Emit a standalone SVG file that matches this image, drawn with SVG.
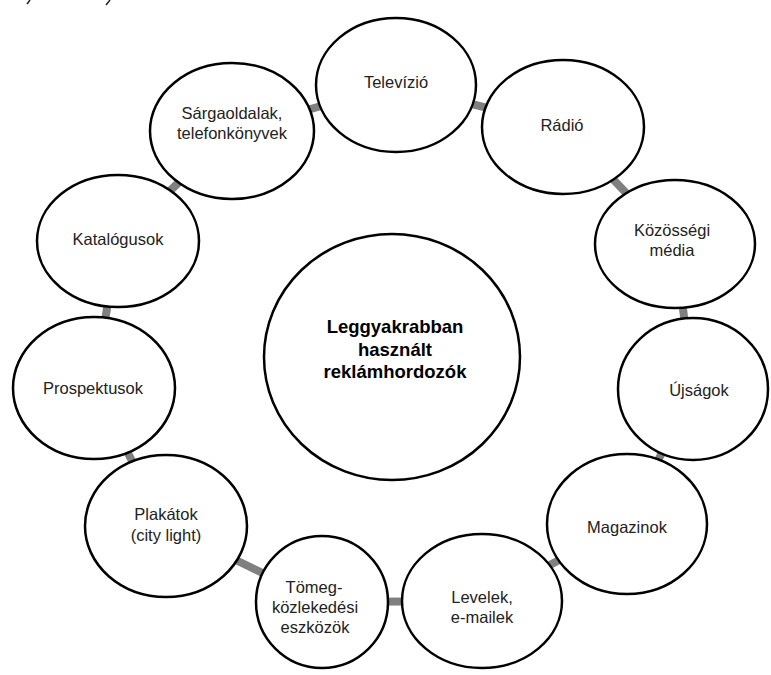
<svg xmlns="http://www.w3.org/2000/svg" width="771" height="675" viewBox="0 0 771 675">
<style>
.n ellipse{fill:#fff;stroke:#000;stroke-width:2.5}
.n text{font-family:"Liberation Sans",Arial,sans-serif;font-size:16.5px;fill:#222;text-anchor:middle}
#center text{font-weight:bold;font-size:18.5px;fill:#000}
.c line{stroke:#808080;stroke-width:8}
.frag{stroke:#222;stroke-width:1.5}
</style>
<rect width="771" height="675" fill="#fff"/>
<line class="frag" x1="30" y1="0" x2="27" y2="4"/>
<line class="frag" x1="110" y1="0" x2="106" y2="5"/>
<g class="c" id="connectors">
<line x1="396" y1="85" x2="563" y2="127"/>
<line x1="563" y1="127" x2="675" y2="244"/>
<line x1="675" y1="244" x2="693" y2="389"/>
<line x1="693" y1="389" x2="627" y2="524"/>
<line x1="627" y1="524" x2="482" y2="601"/>
<line x1="482" y1="601" x2="322" y2="602"/>
<line x1="322" y1="602" x2="166" y2="526"/>
<line x1="166" y1="526" x2="94" y2="388"/>
<line x1="94" y1="388" x2="118" y2="241"/>
<line x1="118" y1="241" x2="232" y2="131"/>
<line x1="232" y1="131" x2="396" y2="85"/>
</g>
<g class="n" id="center"><ellipse cx="392" cy="357" rx="128" ry="123"/>
<text x="395" y="333">Leggyakrabban</text><text x="395" y="356">használt</text><text x="395" y="378">reklámhordozók</text></g>
<g class="n" id="televizio"><ellipse cx="396" cy="85" rx="80" ry="67"/><text x="396" y="88">Televízió</text></g>
<g class="n" id="radio"><ellipse cx="563" cy="127" rx="81" ry="67"/><text x="562" y="131">Rádió</text></g>
<g class="n" id="kozossegi"><ellipse cx="675" cy="244" rx="80" ry="64"/><text x="672" y="236">Közösségi</text><text x="672" y="256">média</text></g>
<g class="n" id="ujsagok"><ellipse cx="693" cy="389" rx="75" ry="71"/><text x="699" y="396">Újságok</text></g>
<g class="n" id="magazinok"><ellipse cx="627" cy="524" rx="80" ry="70"/><text x="627" y="533">Magazinok</text></g>
<g class="n" id="levelek"><ellipse cx="482" cy="601" rx="80" ry="67"/><text x="482" y="603">Levelek,</text><text x="482" y="623">e-mailek</text></g>
<g class="n" id="tomeg"><ellipse cx="322" cy="602" rx="66" ry="66"/><text x="314" y="593">Tömeg-</text><text x="315" y="613">közlekedési</text><text x="315" y="633">eszközök</text></g>
<g class="n" id="plakatok"><ellipse cx="166" cy="526" rx="81" ry="71"/><text x="166" y="520">Plakátok</text><text x="166" y="541">(city light)</text></g>
<g class="n" id="prospektusok"><ellipse cx="94" cy="388" rx="81" ry="71"/><text x="93" y="394">Prospektusok</text></g>
<g class="n" id="katalogusok"><ellipse cx="118" cy="241" rx="81" ry="66"/><text x="118" y="245">Katalógusok</text></g>
<g class="n" id="sargaoldalak"><ellipse cx="232" cy="131" rx="82" ry="68"/><text x="232" y="119">Sárgaoldalak,</text><text x="232" y="139">telefonkönyvek</text></g>
</svg>
